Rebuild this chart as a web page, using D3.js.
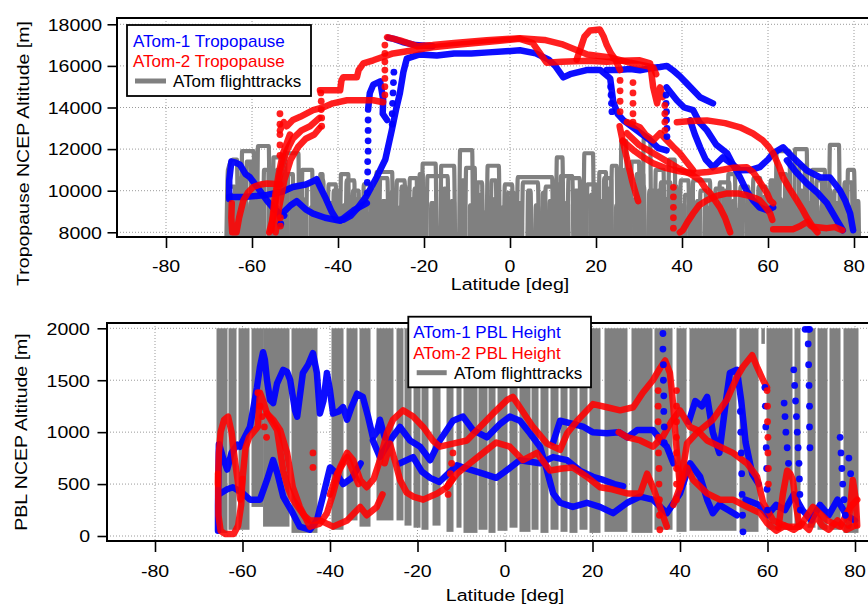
<!DOCTYPE html>
<html>
<head>
<meta charset="utf-8">
<script src="https://cdn.jsdelivr.net/npm/d3@7/dist/d3.min.js"></script>
<style>
  html, body { margin: 0; padding: 0; background: #fff; }
  svg { display: block; }
  text { font-family: "Liberation Sans", Arial, Helvetica, sans-serif; }
</style>
</head>
<body>
<svg id="chart" width="868" height="605"></svg>
<script>
// ---------- axes ----------
const xTicks = [-80, -60, -40, -20, 0, 20, 40, 60, 80];
const tropoTicks = [8000, 10000, 12000, 14000, 16000, 18000];
const pblTicks = [0, 500, 1000, 1500, 2000];

// ---------- flight tracks (latitude, altitude m) ----------
const cruiseTracks = [
  [[-66,7000],[-65.6,11000],[-64.5,11500],[-63.5,11500],[-63.2,7000],[-62.6,7000],[-62.3,11900],[-59.6,11900],[-59.3,7000],
   [-58.9,7000],[-58.6,12150],[-56.1,12150],[-55.8,7000],[-55.2,7000],[-55,11600],[-53.2,11600],[-53,7000],
   [-52.4,7000],[-52.2,11800],[-49.2,11800],[-49,7000],[-48.5,7000],[-48.3,11000],[-46,11000],[-45.8,7000],
   [-45.2,7000],[-45,10500],[-43.4,10500],[-43.2,7000],[-42.5,7000],[-42.2,10300],[-40.5,10300],[-40.3,7000],
   [-39.6,7000],[-39.3,10800],[-37.6,10800],[-37.4,7000],[-36.8,7000],[-36.5,10000],[-35.2,10000],[-35,7000],
   [-34.3,7000],[-34,10300],[-32.4,10300],[-32.2,7000],[-31.3,7000],[-31,10900],[-27.4,10900],[-27.2,7000],
   [-26.6,7000],[-26.3,10500],[-24.5,10500],[-24.3,7000],[-23.6,7000],[-23.3,10600],[-21.7,10600],[-21.5,7000],
   [-20.6,7000],[-20.3,11300],[-17.3,11300],[-17,7000],[-16.2,7000],[-16,11200],[-13,11200],[-12.7,7000],
   [-11.9,7000],[-11.6,11950],[-8.8,11950],[-8.5,7000],[-7.8,7000],[-7.5,10400],[-6.5,10400],[-6.2,7000],
   [-5.5,7000],[-5.2,11200],[-2.6,11200],[-2.3,7000],[-1.5,7000],[-1.2,10300],[0.5,10300],[0.8,7000],
   [1.5,7000],[1.8,10650],[9.8,10650],[10.1,7000],[10.6,7000],[10.9,11600],[12.2,11600],[12.5,7000],
   [13.3,7000],[13.6,10600],[16.2,10600],[16.5,7000],[17,7000],[17.3,11800],[19.3,11800],[19.6,7000],
   [20.5,7000],[20.8,10900],[22.3,10900],[22.6,7000],[23.4,7000],[23.7,11200],[24.8,11200],[25.1,7000],
   [25.6,7000],[25.9,12400],[27,12400],[27.3,7000],[28,7000],[28.3,11400],[30,11400],[30.3,7000],
   [30.8,7000],[31.1,12500],[32.6,12500],[32.9,7000],[33.6,7000],[33.9,11000],[35.7,11000],[36,7000],
   [36.7,7000],[37,11500],[38.3,11500],[38.6,7000],[39.4,7000],[39.7,10500],[41.5,10500],[41.8,7000],
   [42.3,7000],[42.6,10500],[46.5,10500],[46.8,7000],[47.5,7000],[47.8,10100],[49.5,10100],[49.8,7000],
   [50.5,7000],[50.8,10800],[52.3,10800],[52.6,7000],[53.3,7000],[53.6,10200],[55.4,10200],[55.7,7000],
   [56.3,7000],[56.6,10600],[58.2,10600],[58.5,7000],[59.3,7000],[59.6,10000],[60.8,10000],[61.1,7000],
   [61.7,7000],[62,11900],[65,11900],[65.3,7000],[66,7000],[66.3,12000],[69,12000],[69.3,7000],
   [70,7000],[70.3,11000],[73.2,11000],[73.5,7000],[74.1,7000],[74.4,12200],[76.5,12200],[76.8,7000],
   [77.5,7000],[77.8,10400],[79.5,10400],[79.8,7000],[80.3,7000],[80.6,9500],[81,9500],[81.2,7000]],
  [[-65.8,7000],[-65.5,10200],[-64,10200],[-63.8,7000],[-61.5,7000],[-61.2,11400],[-60.3,11400],[-60,7000],
   [-57.5,7000],[-57.2,11000],[-56.2,11000],[-56,7000],[-54.5,7000],[-54.2,11000],[-52.8,11000],[-52.5,7000],
   [-51,7000],[-50.7,10200],[-49.8,10200],[-49.6,7000],[-47.5,7000],[-47.2,10300],[-46,10300],[-45.7,7000],
   [-44,7000],[-43.8,9800],[-42.8,9800],[-42.6,7000],[-41.2,7000],[-41,10000],[-39.8,10000],[-39.5,7000],
   [-38.3,7000],[-38,10500],[-36.2,10500],[-36,7000],[-33.5,7000],[-33.2,9700],[-32.2,9700],[-32,7000],
   [-30.5,7000],[-30.2,10600],[-28.5,10600],[-28.2,7000],[-25.5,7000],[-25.2,10200],[-24.2,10200],[-24,7000],
   [-22.5,7000],[-22.2,10100],[-21,10100],[-20.7,7000],[-19.5,7000],[-19.2,10700],[-14.5,10700],[-14.2,7000],
   [-10.5,7000],[-10.2,11100],[-8.2,11100],[-8,7000],[-4.6,7000],[-4.3,10500],[-3.3,10500],[-3,7000],
   [-0.8,7000],[-0.5,9900],[1,9900],[1.3,7000],[2.7,7000],[3,10400],[6.5,10400],[6.8,7000],
   [8,7000],[8.3,10200],[10,10200],[10.3,7000],[11.5,7000],[11.8,10700],[14.5,10700],[14.8,7000],
   [17.7,7000],[18,10300],[20,10300],[20.3,7000],[21.6,7000],[21.9,10600],[23.5,10600],[23.8,7000],
   [26.3,7000],[26.6,11000],[27.6,11000],[27.9,7000],[29.2,7000],[29.5,10800],[31,10800],[31.3,7000],
   [32.1,7000],[32.4,10000],[33.4,10000],[33.7,7000],[34.8,7000],[35.1,10400],[37.3,10400],[37.6,7000],
   [40.4,7000],[40.7,9800],[42,9800],[42.3,7000],[44,7000],[44.3,10000],[45.5,10000],[45.8,7000],
   [48.5,7000],[48.8,10400],[51,10400],[51.3,7000],[54,7000],[54.3,9800],[56.5,9800],[56.8,7000],
   [57.5,7000],[57.8,10200],[59.5,10200],[59.8,7000],[62.5,7000],[62.8,10800],[64.2,10800],[64.5,7000],
   [67,7000],[67.3,11200],[68.5,11200],[68.8,7000],[71,7000],[71.3,10500],[72.5,10500],[72.8,7000],
   [75.2,7000],[75.5,10000],[77,10000],[77.3,7000],[78.3,7000],[78.6,11000],[80,11000],[80.3,7000]],
  [[-65.2,7000],[-65,9800],[-64.3,9800],[-64.1,7000],[-62.9,7000],[-62.7,10600],[-61.8,10600],[-61.6,7000],
   [-60.6,7000],[-60.4,9400],[-59.8,9400],[-59.6,7000],[-58.2,7000],[-58,10300],[-57.2,10300],[-57,7000],
   [-54.9,7000],[-54.7,9200],[-54,9200],[-53.8,7000],[-51.8,7000],[-51.6,10800],[-50.5,10800],[-50.3,7000],
   [-48.9,7000],[-48.7,9600],[-48,9600],[-47.8,7000],[-46.5,7000],[-46.3,9200],[-45.5,9200],[-45.3,7000],
   [-44.3,7000],[-44.1,10800],[-43.6,10800],[-43.4,7000],[-42,7000],[-41.8,9400],[-41.2,9400],[-41,7000],
   [-38.9,7000],[-38.7,9300],[-38.2,9300],[-38,7000],[-35.8,7000],[-35.6,9600],[-34.8,9600],[-34.6,7000],
   [-33,7000],[-32.8,8900],[-32.4,8900],[-32.3,7000],[-31.9,7000],[-31.7,10000],[-31.1,10000],[-30.9,7000],
   [-29.8,7000],[-29.6,9500],[-29,9500],[-28.8,7000],[-27.9,7000],[-27.7,9900],[-27,9900],[-26.8,7000],
   [-25.9,7000],[-25.7,9200],[-25.2,9200],[-25,7000],[-23,7000],[-22.8,9600],[-22.3,9600],[-22.1,7000],
   [-21.2,7000],[-21,10800],[-20.3,10800],[-20.1,7000],[-18.5,7000],[-18.3,9400],[-17.8,9400],[-17.6,7000],
   [-15.5,7000],[-15.3,10100],[-14.8,10100],[-14.6,7000],[-13.8,7000],[-13.6,9500],[-13,9500],[-12.8,7000],
   [-11.3,7000],[-11.1,10500],[-10.7,10500],[-10.5,7000],[-9.5,7000],[-9.3,9300],[-8.8,9300],[-8.6,7000],
   [-7.2,7000],[-7,9800],[-6.6,9800],[-6.4,7000],[-5.8,7000],[-5.6,9000],[-5.1,9000],[-4.9,7000],
   [-3.9,7000],[-3.7,9600],[-3.2,9600],[-3,7000],[-2,7000],[-1.8,9200],[-1.3,9200],[-1.1,7000],
   [0,7000],[0.2,9700],[0.7,9700],[0.9,7000],[2,7000],[2.2,9400],[2.7,9400],[2.9,7000],
   [4,7000],[4.2,10000],[4.8,10000],[5,7000],[5.8,7000],[6,9300],[6.5,9300],[6.7,7000],
   [7.4,7000],[7.6,9900],[8.1,9900],[8.3,7000],[9,7000],[9.2,9500],[9.7,9500],[9.9,7000],
   [11,7000],[11.2,10300],[11.7,10300],[11.9,7000],[12.8,7000],[13,9400],[13.5,9400],[13.7,7000],
   [15,7000],[15.2,10000],[15.8,10000],[16,7000],[16.8,7000],[17,9200],[17.5,9200],[17.7,7000],
   [18.6,7000],[18.8,9800],[19.4,9800],[19.6,7000],[20.8,7000],[21,9500],[21.5,9500],[21.7,7000],
   [22.8,7000],[23,10100],[23.4,10100],[23.6,7000],[24.5,7000],[24.7,9300],[25.2,9300],[25.4,7000],
   [26.9,7000],[27.1,10500],[27.6,10500],[27.8,7000],[28.8,7000],[29,9600],[29.6,9600],[29.8,7000],
   [30.5,7000],[30.7,10200],[31.2,10200],[31.4,7000],[32.7,7000],[32.9,9400],[33.4,9400],[33.6,7000],
   [34.3,7000],[34.5,10000],[35,10000],[35.2,7000],[36.1,7000],[36.3,9600],[36.8,9600],[37,7000],
   [38,7000],[38.2,10200],[38.8,10200],[39,7000],[39.8,7000],[40,9300],[40.6,9300],[40.8,7000],
   [41.7,7000],[41.9,10000],[42.5,10000],[42.7,7000],[43.3,7000],[43.5,9500],[44,9500],[44.2,7000],
   [45.1,7000],[45.3,9200],[45.9,9200],[46.1,7000],[46.8,7000],[47,9800],[47.5,9800],[47.7,7000],
   [48.4,7000],[48.6,9300],[49.1,9300],[49.3,7000],[50,7000],[50.2,10000],[50.7,10000],[50.9,7000],
   [51.6,7000],[51.8,9500],[52.3,9500],[52.5,7000],[53,7000],[53.2,9100],[53.7,9100],[53.9,7000],
   [55,7000],[55.2,9900],[55.7,9900],[55.9,7000],[57,7000],[57.2,9400],[57.7,9400],[57.9,7000],
   [58.8,7000],[59,9700],[59.5,9700],[59.7,7000],[60.4,7000],[60.6,10500],[61.2,10500],[61.4,7000],
   [62.2,7000],[62.4,9600],[63,9600],[63.2,7000],[63.8,7000],[64,10400],[64.6,10400],[64.8,7000],
   [65.5,7000],[65.7,9500],[66.2,9500],[66.4,7000],[67.1,7000],[67.3,10000],[67.9,10000],[68.1,7000],
   [69,7000],[69.2,9400],[69.7,9400],[69.9,7000],[70.6,7000],[70.8,9900],[71.4,9900],[71.6,7000],
   [72.3,7000],[72.5,9300],[73,9300],[73.2,7000],[73.8,7000],[74,10000],[74.6,10000],[74.8,7000],
   [75.6,7000],[75.8,9400],[76.3,9400],[76.5,7000],[77.2,7000],[77.4,9800],[77.9,9800],[78.1,7000],
   [78.8,7000],[79,9200],[79.5,9200],[79.7,7000],[80.1,7000],[80.3,8800],[80.8,8800],[81,7000]]
];

// boundary-layer portions of the flight tracks: [lat start, lat end, lowest altitude m]
const boundaryLayerTracks = [
  [-65.94,-63.43,30],[-63.2,-61.37,60],[-60.91,-58.4,60],[-57.94,-55.3,280],[-55.3,-49.26,90],[-48.8,-42.86,30],
  [-39.66,-36.91,60],[-36.23,-33.71,150],[-33.26,-30.74,90],[-29.37,-25.49,150],[-24.8,-23.2,150],
  [-22.97,-21.37,100],[-20.91,-19.31,80],[-19.09,-17.49,60],[-16.57,-14.74,100],[-13.37,-11.77,40],[-11.09,-9.94,80],
  [-9.49,-6.29,30],[-6.06,-4.0,60],[-3.77,-2.17,30],[-1.71,0.57,50],[1.03,2.86,80],[3.31,5.83,40],[6.06,7.66,60],
  [8.11,9.94,30],[10.4,12.23,60],[12.69,14.29,40],[14.74,16.57,30],[17.03,18.86,60],[19.31,21.83,30],[22.74,28.0,40],
  [28.91,33.71,30],[34.17,38.29,60],[39.2,41.49,40],[42.17,52.91,50],[53.6,57.94,40],[58.6,59.4,1850],[59.77,65.71,60],
  [66.17,67.54,80],[69.14,70.97,80],[71.43,73.71,60],[74.17,76.69,60],[77.37,80.8,30]
];

// ---------- NCEP tropopause altitude along ATom-1 (m) ----------
const atom1Tropopause = [
  [[-65.3,9600],[-65.3,10500],[-64.8,11400],[-63.8,11350],[-62.8,11250],[-61.5,10800],[-60.5,10650],[-58.5,10100],[-56.6,9550],[-55,9150],[-53.5,8900],[-52.5,8800]],
  [[-65.3,9700],[-62,9700],[-59,9750],[-56.5,9800],[-53,9950],[-50.5,10180],[-47.5,10300],[-45.8,10450],[-45,10550],[-44.2,10200],[-43,9700],[-41.5,9000],[-40.3,8600],[-38.8,8600],[-37,8800],[-35.7,9100],[-33.5,9700],[-31,10650],[-29,11500],[-27.5,12900],[-26.5,13900],[-25.6,14700],[-24.8,15700],[-24,16350],[-21,16550],[-17,16500],[-13,16600],[-9,16600],[-5,16650],[-1,16700],[2.3,16750],[6,16600],[9,16300],[10.5,16000],[12.4,15450],[14,15600],[17.8,15800],[21,15800],[23.3,15400],[24,14300],[25,13700],[26.4,13380],[29.5,12900],[32.6,12420],[34.5,12050],[36.4,11940]],
  [[-53.5,8800],[-51,9300],[-49.6,9500],[-47.5,9100],[-45.8,8900],[-43,8700],[-39.5,8550],[-36.4,9050],[-33.3,9400]],
  [[-33,13900],[-32.6,14700],[-31.8,15100],[-30.2,15250],[-29.5,14400],[-29.6,13700],[-28.6,13400]],
  [[-28.3,17350],[-27,17300],[-25,17150],[-22,17000],[-18,16950]],
  [[22.5,15800],[25,15800],[28,15850],[30.2,15790],[33,15900],[34.9,15950],[36.5,16000],[37.9,15790],[39.5,15500],[41.1,15160],[44.2,14490],[47.2,14200]],
  [[36.4,14970],[38.8,14350],[40.5,14000],[42.6,13870],[44,13300],[45.8,12900],[48,12200],[50.5,11800],[52,11200],[53.5,10640],[55,10000],[56.5,9540],[58,9200],[59.8,9060],[61.2,9200]],
  [[41.9,13380],[43,12700],[44.2,12090],[45.5,11500],[47.2,11130],[49.5,11600],[51.5,11300],[53.5,10980],[56,11000],[58.1,11130],[60,11500],[61.2,11800],[63.5,12090],[65.8,11600],[69,10980],[72.1,10640],[74.4,10640],[76.7,10020],[78,9500],[79.1,8910],[79.8,8100]],
  [[64.4,11460],[66.5,10900],[69,10360],[71.5,9900],[73.7,9400],[76,8580],[77.4,8100]]
];
const atom1TropopauseDots = [
  [-33.2,9900],[-33.2,10400],[-33.1,10900],[-33.1,11400],[-33,11900],[-33,12400],[-33,12900],[-33,13400],
  [-27.4,13200],[-27.4,13700],[-27.3,14200],[-27.2,14700],[-27.1,15200],[-27,15700],
  [23.4,15000],[23.5,14600],[23.6,14200],[23.7,13800],
  [36.3,14600],[36.3,14200],[36.4,13800],[36.4,13400],[36.5,13000],[36.5,12600],[-53.3,8400]
];

// ---------- NCEP tropopause altitude along ATom-2 (m) ----------
const atom2Tropopause = [
  [[-64.7,9400],[-64.8,8700],[-64.6,8000],[-63.6,8000],[-63,8700],[-62,9540],[-61,9900],[-59.7,10180],[-58,10300],[-56.5,10350],[-54.5,10320],[-53.4,10300]],
  [[-56,8000],[-55,8800],[-54.3,9800],[-53.3,11000],[-52,11900],[-50.5,12500],[-48.5,12900],[-46.5,13100],[-44.3,13500]],
  [[-54.5,8000],[-53.7,9200],[-52.5,10500],[-51,11500],[-49.3,12100],[-47.5,12500],[-45.5,12700],[-44.3,13000]],
  [[-55.5,8100],[-54.8,9500],[-53.8,10800],[-52.8,11800],[-51.2,12700]],
  [[-53.5,12900],[-52.6,13300],[-51.9,13100],[-50.5,13400],[-48.8,13550],[-45.8,13870],[-43.5,14000],[-41.2,14200],[-37.9,14350],[-34.9,14350],[-31.8,14350],[-29.5,14250]],
  [[-44.2,14830],[-39.5,14830],[-39.2,15300],[-38.8,15450],[-35.6,15450],[-35.2,15800],[-34.1,16120],[-31.8,16270],[-27.2,16600],[-22.5,16750],[-18,16900],[-13,17000],[-8,17100],[-3,17200],[2.3,17300],[5.3,17100],[7,16600],[8.5,16150],[12,16200],[18,16250],[22.5,16200],[26,16250],[30.2,16270],[32.6,16120],[33.3,14970],[34.2,14200],[34.9,14970],[35.5,14500]],
  [[-28.6,17380],[-25.6,17230],[-21.6,16950],[-18,17000],[-13,17100],[-5.4,17230],[2.3,17330],[8,17250],[12,17050],[15,16800],[18,16550],[23.3,16410],[28,16150],[33.3,15930],[34,15600]],
  [[15.5,16300],[16.5,16900],[17.3,17400],[18.6,17700],[20.9,17750],[21.8,17400],[22.5,17000],[23.5,16600],[24.5,16300],[25.6,15800]],
  [[25.5,13100],[26.2,12400],[27,11700],[27.8,11000],[28.5,10400],[29.2,9900],[29.8,9500]],
  [[38.8,13290],[42,13350],[45.8,13380],[50,13250],[53.5,13050],[56.5,12750],[58.8,12420],[60.2,12100],[61.2,11800],[62.5,11200],[63.5,10640],[65,10100],[66.7,9540],[68,9100],[69,8720],[70.5,8240],[71.5,8000]],
  [[26.2,12400],[29,11900],[31,11600],[33.3,11320],[36,11100],[39,10950],[42.6,10840],[46,10900],[48.8,10980],[52,11100],[55.1,11130],[56.5,10900],[57.4,10640],[58.8,10200],[59.8,9870],[60.5,9540],[61.2,9400]],
  [[27.2,13300],[29,13150],[30.2,13050],[31.5,12700],[33.3,12420],[34.9,12760],[36.5,12420],[38,12100],[39.5,11800],[41,11400],[42.6,10980]],
  [[27.2,12760],[30,12200],[32.5,11900],[34.9,11610],[37,11350],[39,11100],[42,10800],[44.2,10500],[45.5,10100],[46.5,9900],[47.8,9500],[48.8,9200],[50,8700],[50.7,8300],[51.2,8000]],
  [[39.5,8000],[40.2,8100],[41.3,8500],[42.6,8910],[44,9300],[45.8,9540],[48,9750],[50.5,9870],[53,9870],[55.1,9780],[57,9650],[58.1,9540],[59.5,9200],[60.5,8910],[61,8600]],
  [[61.2,8150],[63,8150],[65.8,8150],[67.5,8300],[69.1,8500],[70,8300],[71,8250],[73.7,8200],[75.5,8250],[76.7,8150],[77.3,8100]]
];
const atom2TropopauseDots = [
  [-53.5,13700],[-53.5,13200],[-53.5,12700],[-53.5,12200],[-53.5,11700],[-53.4,8700],[-53.4,8300],
  [-43.8,13100],[-43.8,13500],[-43.9,13900],[-43.9,14300],[-44,14700],
  [-29.1,14600],[-29.1,15000],[-29.1,15400],[-29.1,15800],[-29.1,16200],[-29.1,16600],[-29.1,17000],
  [25.6,15300],[25.6,14800],[25.6,14300],[25.6,13800],
  [28.6,15200],[28.6,14700],[28.6,14200],[28.6,13700],[28.6,13300],
  [36,14100],[36,13700],[36,13300],[36,12900],
  [38,10160],[38,9700],[38,9200],[38,8700],[38,8200]
];

// ---------- NCEP PBL height along ATom-1 (m) ----------
const atom1Pbl = [
  [[-65.6,50],[-65.6,300],[-65.5,600],[-65.4,880]],
  [[-65.3,880],[-64.5,760],[-63.5,640],[-62.5,800],[-61.2,880],[-60.6,860],[-59.5,950],[-58.3,1050],[-57.6,1210],[-56.7,1430],[-56,1630],[-55.3,1770],[-54.9,1700],[-54.4,1500],[-53.7,1310],[-53,1280],[-52.1,1470],[-50.7,1600],[-49.8,1580],[-49.1,1500],[-48,1210],[-47.5,1150],[-46.2,1570],[-45,1650],[-43.9,1760],[-43,1570],[-42.3,1180],[-41.5,1300],[-40.7,1570],[-40,1400],[-39.3,1180],[-38,1200],[-37,1240],[-36.1,1120],[-35,1250],[-33.8,1370],[-32.5,1340],[-31.3,1150],[-30.2,950],[-29.3,1000],[-28.6,1120],[-27.5,950]],
  [[-30.2,920],[-28.6,760],[-26.3,920],[-24,1050],[-21.7,920],[-19.4,860],[-17.1,730],[-14.9,920],[-11.9,1110],[-9.6,1150],[-7.3,1020],[-4.1,950],[-1.1,1080],[1.1,1150],[3.4,1110],[5.7,990],[8,860],[9.6,630],[11,410],[12.6,320],[15.5,280],[18.7,320],[21.7,280],[24.7,220],[27.9,320],[30.9,380],[33.8,350],[37,220],[40,410],[42.3,700],[44.6,570],[46.2,350],[47.5,220],[49,300],[51,250],[53,200]],
  [[11,900],[12.6,1110],[15.5,1080],[18,1050],[20,1000],[23.3,990],[26,1000],[28,950],[30.2,1020],[33.8,1020],[36,900],[37,860],[38.5,700]],
  [[-24,700],[-21,760],[-19,620],[-17.1,560],[-15,520],[-13,600],[-11,680],[-8,640],[-5,600],[-2,560],[0,620],[3.4,730],[8,700],[11,760],[14.2,730],[17.1,630],[20.1,570],[22.5,540],[25,500],[27,480]],
  [[-65.1,410],[-63.5,450],[-62.2,470],[-60.6,430],[-59.9,410],[-58.3,350],[-56,350],[-54.4,540],[-53,730],[-52,600],[-50.7,380],[-48.5,220],[-46.9,90],[-44.6,60],[-43,150],[-41.5,400],[-40,660],[-38.5,600],[-37,500],[-35,560],[-33,700]],
  [[42,1100],[43.5,1300],[45,1250],[46.2,1340],[47.5,1000],[49,800],[50.5,1300],[51.4,1570],[53,1600],[54,1300],[55,900],[56.5,600],[58,500]],
  [[55,350],[58,300],[60,200],[62,300],[64,250],[66,400],[68,250],[70,150],[72,300],[74,200],[76,350],[78,200],[80,150]]
];
const atom1PblDots = [
  [36.1,1950],[36.1,1800],[36.2,1650],[36.2,1500],[36.3,1350],[36.3,1200],[36.4,1050],[36.4,900],
  [53.8,1200],[53.9,1000],[54,800],[54.1,600],[54.2,400],[54.3,200],[54.4,40],
  [59.4,1430],[59.5,1250],[59.6,1050],[59.7,850],[59.8,650],[59.9,450],[60,250],
  [63.8,1280],[64,1150],[64.2,1000],[64.5,850],[64.8,700],
  [66,1600],[66.2,1450],[66.4,1300],[66.6,1150],[66.8,1000],[67,850],[67.2,700],[67.3,550],[67.4,400],[67.5,250],
  [68.6,1990],[69.3,1990],[69.6,1990],[69.3,1850],[69.4,1650],[69.5,1450],[69.6,1250],[69.6,1050],[69.7,850],
  [76.6,950],[76.8,800],[77,650],[77.2,500],[77.5,350],[77.8,200],[78.6,750],[79,600]
];

// ---------- NCEP PBL height along ATom-2 (m) ----------
const atom2Pbl = [
  [[-65.6,500],[-65.4,800],[-65,1000],[-64.2,1120],[-63.3,1150],[-62.5,1000],[-61.8,750],[-61,500],[-60.5,350],[-60,550],[-59.3,850],[-58.5,950],[-57.5,1000],[-56.5,1050],[-56,1380],[-55.3,1300],[-54.4,1180],[-53,1120],[-51.4,1020],[-49.8,800],[-48.5,470],[-46.9,280],[-45.3,150],[-44.6,90],[-42.3,120],[-40.7,220],[-39.3,410],[-37.7,660],[-36.1,800],[-34.7,730],[-33.1,540],[-31.6,470],[-30,550],[-28.6,730],[-27,990],[-25.6,1120],[-23.3,1210],[-21,1150],[-18.7,1050],[-16.5,920],[-14.9,860],[-11.9,890],[-8.7,920],[-5.7,1050],[-2.7,1180],[0.5,1310],[1.8,1340],[3.4,1240],[6.4,1050],[9.6,890],[12.6,830],[14.2,990],[16.5,1110],[20.1,1270],[23.3,1240],[26.3,1210],[29.3,1240],[31.5,1380],[33.8,1500],[35.5,1620],[36.6,1690],[37.7,1570],[38.4,1280],[39.2,850],[40,470]],
  [[-65.6,600],[-65.5,200],[-65,50],[-64,20],[-62,20],[-61,100],[-60.3,300],[-60,550]],
  [[-13.3,470],[-11,600],[-8,700],[-5,800],[-2,900],[1.1,860],[4.1,730],[7.3,800],[10.3,630],[13,650],[15.5,660],[18.7,570],[21.7,470],[24.5,450],[27.9,410],[30.9,410],[32.5,600],[34,450],[35.4,280],[37,90]],
  [[26,1000],[28,950],[30.9,920],[33.8,860],[36,950],[38,1100],[40,1210],[42.3,1050],[43.9,1020],[46.2,920],[49.1,860],[52.1,800],[55.3,700],[57.6,570],[59,320],[61.3,150],[64.5,90],[67.4,90],[70.4,280],[73.6,150],[76.6,90],[78.9,280],[80.5,350]],
  [[40,470],[41.6,890],[44,1000],[47.5,1120],[50.7,1310],[53,1530],[54.4,1630],[56.5,1740],[57.6,1630],[59,1500],[59.9,1430]],
  [[38.5,300],[40,470],[41.6,660],[43,540],[46.2,410],[49.1,350],[52.1,350],[55.3,280],[58.3,220],[60,120],[62,50],[64,100],[66,60],[68,120],[69.5,60],[71,200],[72.5,100],[74,60],[76,150],[78,60],[80,100]],
  [[62.5,80],[63.5,400],[64.5,630],[65.2,600],[65.8,540],[66.5,300],[67.2,120]],
  [[78.5,100],[79.5,540],[80.2,350],[80.5,100]],
  [[-27.5,700],[-26.3,890],[-25,700],[-24,540],[-22.5,420],[-21,380],[-18.7,350],[-15.5,410],[-13.3,470],[-12,550]],
  [[-54.4,1180],[-52.1,1020],[-50.7,630],[-49.5,450],[-48.5,350],[-46,200],[-44.6,150],[-42.3,150],[-39.3,90],[-36.1,150],[-33.1,280],[-31.6,200],[-29.3,280],[-28,400]],
  [[-40,400],[-38.4,600],[-36.1,760],[-35,650],[-33.5,500]]
];
const atom2PblDots = [
  [-56.5,1380],[-56,1250],[-55.5,1150],[-55,1050],[-54.5,950],
  [-43.9,800],[-43.9,660],
  [-13,400],[-12.8,500],[-12.5,600],[-12.2,700],[-11.9,800],
  [35,1400],[35,1250],[35,1100],[35.1,950],[35.1,800],[35.2,650],[35.2,500],[35.3,350],[35.3,200],[35.4,60],
  [39.2,1400],[39.2,1250],[39.2,1100],[39.2,950],[39.2,800],[39.2,650],[39.2,500],[39.2,350],
  [59.9,1400],[60,1250],[60,1100],[60.1,950],[60.1,800],[60.2,650],[60.2,500]
];

// ---------- drawing ----------
const svg = d3.select("#chart");
const BLUE = "#0000ff", RED = "#ff0000", GRAY = "#808080";
const STRETCH = 1.15;

function label(g, x, y, str, anchor, rotate) {
  return g.append("text")
    .attr("transform", `translate(${x},${y})` + (rotate ? ` rotate(${rotate})` : "") + ` scale(${STRETCH},1)`)
    .attr("text-anchor", anchor)
    .attr("font-size", 17)
    .attr("fill", "#000")
    .text(str);
}

function makePanel(cfg) {
  const f = cfg.frame;
  const x = d3.scaleLinear().domain([-80, 80]).range(cfg.xRange);
  const y = d3.scaleLinear().domain(cfg.yDomain).range(cfg.yRange);
  const g = svg.append("g");

  svg.append("clipPath").attr("id", cfg.id + "-clip")
    .append("rect").attr("x", f.left).attr("y", f.top)
    .attr("width", f.right - f.left).attr("height", f.bottom - f.top);

  const grid = g.append("g").attr("stroke", "#9a9a9a").attr("stroke-width", 1).attr("stroke-dasharray", "1,2");
  grid.selectAll("line.gx").data(xTicks).join("line").attr("class", "gx")
    .attr("x1", d => x(d)).attr("x2", d => x(d)).attr("y1", f.top).attr("y2", f.bottom);
  grid.selectAll("line.gy").data(cfg.yTicks).join("line").attr("class", "gy")
    .attr("x1", f.left).attr("x2", f.right).attr("y1", d => y(d)).attr("y2", d => y(d));

  const plot = g.append("g").attr("clip-path", `url(#${cfg.id}-clip)`);
  return { g, x, y, plot, f, cfg };
}

function drawSeries(p, segments, dots, color, opacity) {
  const line = d3.line().x(d => p.x(d[0])).y(d => p.y(d[1]));
  p.plot.append("g").selectAll("path").data(segments).join("path")
    .attr("d", line).attr("fill", "none").attr("stroke", color)
    .attr("stroke-opacity", opacity).attr("stroke-width", 6.5)
    .attr("stroke-linejoin", "round").attr("stroke-linecap", "round");
  return () => p.plot.append("g").selectAll("circle").data(dots).join("circle")
    .attr("cx", d => p.x(d[0])).attr("cy", d => p.y(d[1])).attr("r", 3.4)
    .attr("fill", color).attr("fill-opacity", opacity);
}

function drawAxes(p) {
  const f = p.f, cfg = p.cfg;
  const xa = d3.axisBottom(p.x).tickValues(xTicks).tickSize(11).tickSizeOuter(0).tickFormat("");
  p.g.append("g").attr("transform", `translate(0,${f.bottom})`).call(xa)
    .call(a => a.select(".domain").remove())
    .selectAll("line").attr("stroke", "#000").attr("stroke-width", 1.6);
  const ya = d3.axisLeft(p.y).tickValues(cfg.yTicks).tickSize(9.5).tickSizeOuter(0).tickFormat("");
  p.g.append("g").attr("transform", `translate(${f.left},0)`).call(ya)
    .call(a => a.select(".domain").remove())
    .selectAll("line").attr("stroke", "#000").attr("stroke-width", 1.6);

  p.g.append("rect").attr("x", f.left).attr("y", f.top)
    .attr("width", f.right - f.left).attr("height", f.bottom - f.top)
    .attr("fill", "none").attr("stroke", "#000").attr("stroke-width", 2);

  xTicks.forEach(t => label(p.g, p.x(t), cfg.xLabelY, String(t), "middle"));
  cfg.yTicks.forEach(t => label(p.g, cfg.yLabelX, p.y(t) + 6.3, String(t), "end"));
  label(p.g, (p.x(-80) + p.x(80)) / 2, cfg.xTitleY, "Latitude [deg]", "middle");
  label(p.g, cfg.yTitle.x, cfg.yTitle.y, cfg.yTitle.text, "middle", -90);
}

function drawLegend(p, box, rows) {
  const lg = p.g.append("g");
  lg.append("rect").attr("x", box.x).attr("y", box.y).attr("width", box.w).attr("height", box.h)
    .attr("fill", "#fff").attr("stroke", "#000").attr("stroke-width", 1.8);
  rows.forEach(r => {
    if (r.swatch) {
      lg.append("line").attr("x1", r.swatch[0]).attr("x2", r.swatch[1])
        .attr("y1", r.swatch[2]).attr("y2", r.swatch[2])
        .attr("stroke", GRAY).attr("stroke-width", 5);
    }
    lg.append("text").attr("x", r.x).attr("y", r.y).attr("font-size", 17)
      .attr("fill", r.color).text(r.text);
  });
}

// --- upper panel: tropopause ---
const upper = makePanel({
  id: "tropo",
  frame: { left: 117, right: 905, top: 18, bottom: 237 },
  xRange: [166, 854], yDomain: [8000, 18000], yRange: [232.3, 24.3],
  yTicks: tropoTicks, xLabelY: 271.5, yLabelX: 102, xTitleY: 289.5,
  yTitle: { x: 28.5, y: 153.5, text: "Tropopause NCEP Altitude [m]" }
});
const trackLine = d3.line().curve(d3.curveMonotoneX).x(d => upper.x(d[0])).y(d => upper.y(d[1]));
upper.plot.append("g").selectAll("path").data(cruiseTracks).join("path")
  .attr("d", trackLine).attr("fill", "none").attr("stroke", GRAY)
  .attr("stroke-width", 4.2).attr("stroke-linejoin", "round");
const upperBlueDots = drawSeries(upper, atom1Tropopause, atom1TropopauseDots, BLUE, 0.95);
const upperRedDots = drawSeries(upper, atom2Tropopause, atom2TropopauseDots, RED, 0.88);
upperBlueDots(); upperRedDots();
drawAxes(upper);
drawLegend(upper, { x: 127, y: 25, w: 184, h: 71 }, [
  { text: "ATom-1 Tropopause", x: 133, y: 46.7, color: BLUE },
  { text: "ATom-2 Tropopause", x: 133, y: 66.7, color: RED },
  { text: "ATom flighttracks", x: 173, y: 87, color: "#000", swatch: [135, 166, 81] }
]);

// --- lower panel: boundary layer ---
const lower = makePanel({
  id: "pbl",
  frame: { left: 107, right: 905, top: 323, bottom: 541 },
  xRange: [155, 855], yDomain: [0, 2000], yRange: [536, 328.3],
  yTicks: pblTicks, xLabelY: 576.7, yLabelX: 90, xTitleY: 600.5,
  yTitle: { x: 27, y: 432, text: "PBL NCEP Altitude [m]" }
});
lower.plot.append("g").selectAll("rect").data(boundaryLayerTracks).join("rect")
  .attr("x", d => lower.x(d[0])).attr("width", d => lower.x(d[1]) - lower.x(d[0]))
  .attr("y", lower.y(2000)).attr("height", d => lower.y(d[2]) - lower.y(2000))
  .attr("fill", GRAY);
const lowerBlueDots = drawSeries(lower, atom1Pbl, atom1PblDots, BLUE, 0.95);
const lowerRedDots = drawSeries(lower, atom2Pbl, atom2PblDots, RED, 0.88);
lowerBlueDots(); lowerRedDots();
drawAxes(lower);
drawLegend(lower, { x: 408.3, y: 316.7, w: 182.7, h: 70.6 }, [
  { text: "ATom-1 PBL Height", x: 413.3, y: 338.3, color: BLUE },
  { text: "ATom-2 PBL Height", x: 413.3, y: 359, color: RED },
  { text: "ATom flighttracks", x: 454, y: 379, color: "#000", swatch: [416.7, 446.7, 372.7] }
]);
</script>
</body>
</html>
